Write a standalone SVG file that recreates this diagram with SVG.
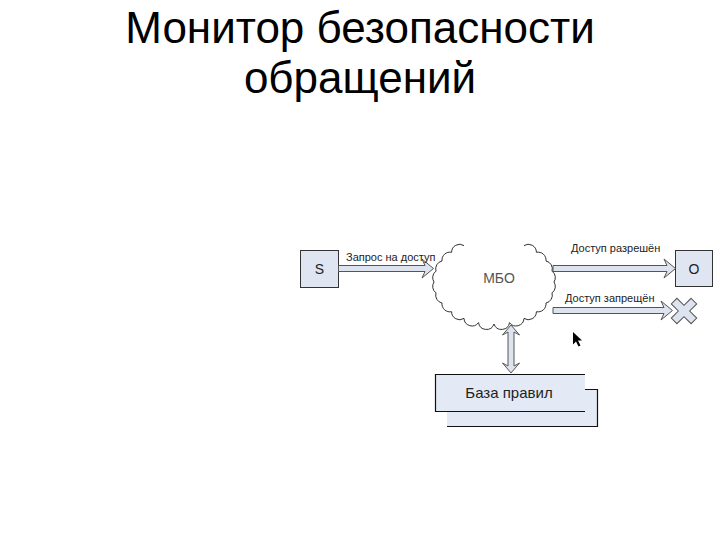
<svg xmlns="http://www.w3.org/2000/svg" width="720" height="540" viewBox="0 0 720 540">
<style>
.title{font-family:"Liberation Sans",Arial,sans-serif;font-size:44px;fill:#000;text-anchor:middle}
.lbl{font-family:"Liberation Sans",Arial,sans-serif;font-size:11px;fill:#222}
.box{fill:#dfe6f1;stroke:#333;stroke-width:1}
.arr{fill:#dde4ef;stroke:#555;stroke-width:1}
.edge{stroke:#111;stroke-width:1.2;fill:none}
.nodetxt{font-family:"Liberation Sans",Arial,sans-serif;font-size:14px;fill:#222;text-anchor:middle}
</style>
<rect width="720" height="540" fill="#fff"/>
<text class="title" x="360" y="43">Монитор безопасности</text>
<text class="title" x="360" y="93">обращений</text>

<g id="node-S">
<rect class="box" x="300.5" y="250.5" width="38" height="37"/>
<text class="nodetxt" x="319.5" y="274">S</text>
</g>

<g id="node-MBO">
<path d="M524 245.6 A8 8 0 0 1 536.4 252.3 A8 8 0 0 1 546 261 A8 8 0 0 1 552 271.1 A8 8 0 0 1 554 282 A8 8 0 0 1 552 292.9 A8 8 0 0 1 546 303 A8 8 0 0 1 536.4 311.7 A8 8 0 0 1 524 318.4 A8 8 0 0 1 509.5 322.6 A8 8 0 0 1 494 324 A8 8 0 0 1 478.5 322.6 A8 8 0 0 1 464 318.4 A8 8 0 0 1 451.6 311.7 A8 8 0 0 1 442 303 A8 8 0 0 1 436 292.9 A8 8 0 0 1 434 282 A8 8 0 0 1 436 271.1 A8 8 0 0 1 442 261 A8 8 0 0 1 451.6 252.3 A8 8 0 0 1 464 245.6" fill="#fff" stroke="#333" stroke-width="1"/>
<text x="499" y="283" font-family="'Liberation Sans',Arial,sans-serif" font-size="14" fill="#555" text-anchor="middle">МБО</text>
</g>

<g id="node-O">
<rect class="box" x="675.5" y="250.5" width="37" height="36"/>
<text class="nodetxt" x="694" y="274">O</text>
</g>

<g id="node-deny">
<polygon class="arr" transform="translate(684,311) rotate(45)" points="-4,-14 4,-14 4,-4 14,-4 14,4 4,4 4,14 -4,14 -4,4 -14,4 -14,-4 -4,-4"/>
</g>

<g id="node-rules">
<rect x="447" y="389" width="150" height="37" fill="#e3eaf5"/>
<path class="edge" d="M585 389.5 H597.5 V426.5 H447"/>
<rect x="435" y="374" width="150" height="37" fill="#e3eaf5"/>
<path class="edge" d="M585 374.5 H435.5 V411.5 H585"/>
<text x="509" y="398" font-family="'Liberation Sans',Arial,sans-serif" font-size="15" fill="#222" text-anchor="middle">База правил</text>
</g>

<g id="connectors">
<polygon class="arr" points="338.5,265.5 425,265.5 422,259 433.5,268.5 422,278 425,271.5 338.5,271.5"/>
<text class="lbl" x="346" y="261">Запрос на доступ</text>
<polygon class="arr" points="553,265.5 667,265.5 664,259 675.5,268.5 664,278 667,271.5 553,271.5"/>
<text class="lbl" x="571" y="252">Доступ разрешён</text>
<polygon class="arr" points="553,307.5 664,307.5 661,301 672.5,310.5 661,320 664,313.5 553,313.5"/>
<text class="lbl" x="565" y="302">Доступ запрещён</text>
<polygon class="arr" points="511,325 519.5,335 514,332 514,366 519.5,363 511,373 502.5,363 508,366 508,332 502.5,335"/>
</g>

<polygon points="573,332 573,344.5 576,341.5 578.5,346.5 580.5,345.5 578,340.5 582,340.5" fill="#000"/>
</svg>
